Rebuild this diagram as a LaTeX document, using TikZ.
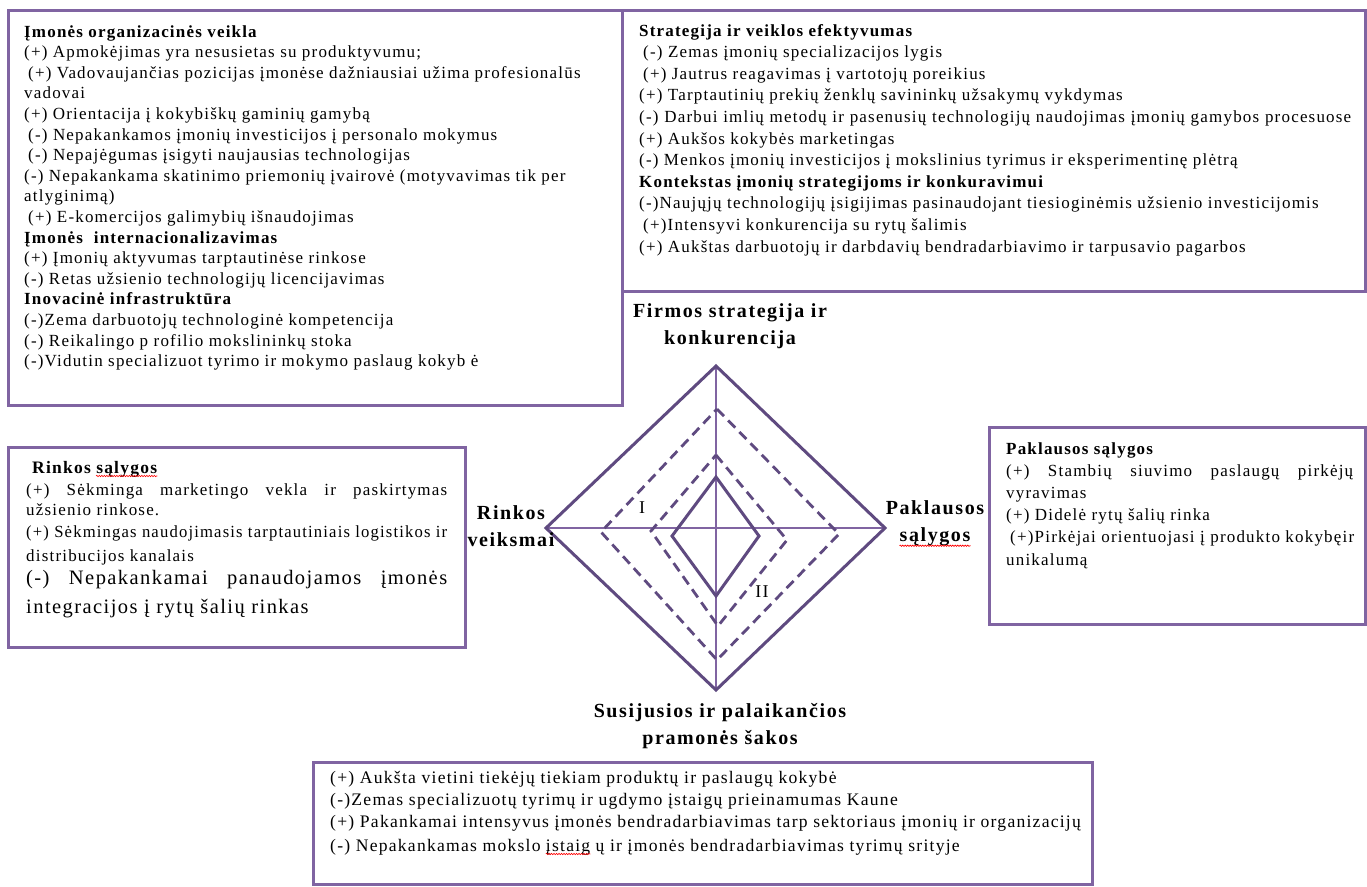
\documentclass[tikz,border=0pt]{standalone}
\usepackage{fontspec}
\setmainfont{Liberation Serif}
\newfontfamily\bodyfont{Liberation Serif}[LetterSpace=7]
\newfontfamily\labelfont{Liberation Serif}[LetterSpace=8]
\usetikzlibrary{calc,decorations.pathmorphing}
\definecolor{boxpurple}{HTML}{8064A2}
\definecolor{darkpurple}{HTML}{5F4A80}
\newcommand\ind{\hspace*{4pt}}
% justified line: stretch the spaces, or squeeze the line when it is too long
\newcommand\just[2]{\setbox0\hbox{#2}%
  \ifdim\wd0>#1\relax\resizebox{#1}{\height}{\box0}\else\makebox[#1][s]{#2}\fi}
\tikzset{
  panel/.style={draw=boxpurple, line width=3pt, fill=white, anchor=north west,
    inner sep=0pt, outer sep=0pt},
  body/.style={anchor=base west, inner sep=0pt, text=black,
    font=\bodyfont\fontsize{17}{20}\selectfont},
  relbody/.style={body, font=\bodyfont\fontsize{17.6}{20}\selectfont},
  bigbody/.style={body, font=\bodyfont\fontsize{20.5}{24}\selectfont},
  axlabel/.style={align=center, inner sep=0pt, text=black,
    font=\labelfont\bfseries\fontsize{20}{27}\selectfont},
  roman/.style={inner sep=0pt, text=black, font=\bodyfont\fontsize{18}{20}\selectfont},
  axisline/.style={draw=boxpurple, line width=1.4pt},
  diamondline/.style={draw=darkpurple, line width=3pt, line join=miter},
  dashline/.style={draw=darkpurple, line width=2.8pt, dash pattern=on 10pt off 6pt},
  wavy/.style={draw=red, line width=0.6pt, decorate,
    decoration={snake, amplitude=0.7pt, segment length=2.5pt}},
}
\begin{document}
\begin{tikzpicture}[x=1pt,y=-1pt]
\useasboundingbox (0,0) rectangle (1367,886);
\fill[white] (0,0) rectangle (1367,886);

% ---- panels ----
\node[panel, minimum width=614pt, minimum height=395pt] (org) at (8,10) {};
\node[panel, minimum width=743pt, minimum height=281pt] (strat) at (622,10) {};
\node[panel, minimum width=457pt, minimum height=200pt] (mkt) at (8,447) {};
\node[panel, minimum width=376pt, minimum height=197pt] (dem) at (989,427) {};
\node[panel, minimum width=779pt, minimum height=122pt] (rel) at (313,762) {};

% ---- organisation, internationalisation, infrastructure ----
\foreach \t [count=\i from 0] in {
  {\textbf{Įmonės organizacinės veikla}},
  {(+) Apmokėjimas yra nesusietas su produktyvumu;},
  {\ind(+) Vadovaujančias pozicijas įmonėse dažniausiai užima profesionalūs},
  {vadovai},
  {(+) Orientacija į kokybiškų gaminių gamybą},
  {\ind(-) Nepakankamos įmonių investicijos į personalo mokymus},
  {\ind(-) Nepajėgumas įsigyti naujausias technologijas},
  {(-) Nepakankama skatinimo priemonių įvairovė (motyvavimas tik per},
  {atlyginimą)},
  {\ind(+) E-komercijos galimybių išnaudojimas},
  {\textbf{Įmonės \ internacionalizavimas}},
  {(+) Įmonių aktyvumas tarptautinėse rinkose},
  {(-) Retas užsienio technologijų licencijavimas},
  {\textbf{Inovacinė infrastruktūra}},
  {(-)Zema darbuotojų technologinė kompetencija},
  {(-) Reikalingo p rofilio mokslininkų stoka},
  {(-)Vidutin specializuot tyrimo ir mokymo paslaug kokyb ė}}
  \node[body] (org\i) at (24, 37+\i*20.6) {\t};

% ---- strategy and competition ----
\foreach \t [count=\i from 0] in {
  {\textbf{Strategija ir veiklos efektyvumas}},
  {\ind(-) Zemas įmonių specializacijos lygis},
  {\ind(+) Jautrus reagavimas į vartotojų poreikius},
  {(+) Tarptautinių prekių ženklų savininkų užsakymų vykdymas},
  {\just{712pt}{(-) Darbui imlių metodų ir pasenusių technologijų naudojimas įmonių gamybos procesuose}},
  {(+) Aukšos kokybės marketingas},
  {(-) Menkos įmonių investicijos į mokslinius tyrimus ir eksperimentinę plėtrą},
  {\textbf{Kontekstas įmonių strategijoms ir konkuravimui}},
  {(-)Naujųjų technologijų įsigijimas pasinaudojant tiesioginėmis užsienio investicijomis},
  {\ind(+)Intensyvi konkurencija su rytų šalimis},
  {(+) Aukštas darbuotojų ir darbdavių bendradarbiavimo ir tarpusavio pagarbos}}
  \node[body] (strat\i) at (639, 36+\i*21.6) {\t};

% ---- market conditions ----
\node[body, font=\bodyfont\bfseries\fontsize{17.5}{20}\selectfont] (mktA) at (32,473) {Rinkos};
\node[body, font=\bodyfont\bfseries\fontsize{17.5}{20}\selectfont] (mktB)
  at ($(mktA.base east)+(5,0)$) {sąlygos};
\draw[wavy] ($(mktB.base west)+(0,3)$) -- ($(mktB.base east)+(0,3)$);
\node[body] (mkt1) at (26,495) {\just{421pt}{(+) Sėkminga marketingo vekla ir paskirtymas}};
\node[body] (mkt2) at (26,515) {užsienio rinkose.};
\node[body] (mkt3) at (26,537) {\just{421pt}{(+) Sėkmingas naudojimasis tarptautiniais logistikos ir}};
\node[body] (mkt4) at (26,561) {distribucijos kanalais};
\node[bigbody] (mkt5) at (26,584) {\just{421pt}{(-) Nepakankamai panaudojamos įmonės}};
\node[bigbody] (mkt6) at (26,613) {integracijos į rytų šalių rinkas};

% ---- demand conditions ----
\foreach \t [count=\i from 0] in {
  {\textbf{Paklausos sąlygos}},
  {\just{347pt}{(+) Stambių siuvimo paslaugų pirkėjų}},
  {vyravimas},
  {(+) Didelė rytų šalių rinka},
  {\ind(+)Pirkėjai orientuojasi į produkto kokybęir},
  {unikalumą}}
  \node[body] (dem\i) at (1006, 454+\i*22.2) {\t};

% ---- related and supporting industries ----
\node[relbody] (rel0) at (330,783) {(+) Aukšta vietini tiekėjų tiekiam produktų ir paslaugų kokybė};
\node[relbody] (rel1) at (330,805) {(-)Zemas specializuotų tyrimų ir ugdymo įstaigų prieinamumas Kaune};
\node[relbody] (rel2) at (330,827) {(+) Pakankamai intensyvus įmonės bendradarbiavimas tarp sektoriaus įmonių ir organizacijų};
\node[relbody] (rel3a) at (330,851) {(-) Nepakankamas mokslo};
\node[relbody] (rel3b) at ($(rel3a.base east)+(5,0)$) {įstaig};
\node[relbody] (rel3c) at ($(rel3b.base east)+(5,0)$) {ų ir įmonės bendradarbiavimas tyrimų srityje};
\draw[wavy] ($(rel3b.base west)+(0,3)$) -- ($(rel3b.base east)+(0,3)$);

% ---- diamond ----
\coordinate (oT) at (716,366);
\coordinate (oR) at (885,528);
\coordinate (oB) at (716,690);
\coordinate (oL) at (546,528);
\coordinate (dT) at (717,409);
\coordinate (dR) at (839,534);
\coordinate (dB) at (717,660);
\coordinate (dL) at (601,532);
\coordinate (eT) at (716,455);
\coordinate (eR) at (787,540);
\coordinate (eB) at (718,626);
\coordinate (eL) at (651,531);
\coordinate (iT) at (716,477);
\coordinate (iR) at (759,536);
\coordinate (iB) at (716,596);
\coordinate (iL) at (672,536);

\draw[axisline] (oT) -- (oB);
\draw[axisline] (oL) -- (oR);
\draw[diamondline] (oT) -- (oR) -- (oB) -- (oL) -- cycle;
\draw[dashline] (dT) -- (dR) -- (dB) -- (dL) -- cycle;
\draw[dashline] (eT) -- (eR) -- (eB) -- (eL) -- cycle;
\draw[diamondline] (iT) -- (iR) -- (iB) -- (iL) -- cycle;

\node[roman] (zoneI) at (642,508) {I};
\node[roman] (zoneII) at (762,592) {II};

% ---- axis labels ----
\node[axlabel] (firm) at (730,326) {Firmos strategija ir\\konkurencija};
\node[axlabel] (rivals) at (511,526) {Rinkos\\veiksmai};
\node[axlabel] (demA) at (935,508) {Paklausos};
\node[axlabel] (demB) at (935,537) {sąlygos};
\draw[wavy] ($(demB.base west)+(0,4)$) -- ($(demB.base east)+(0,4)$);
\node[axlabel] (ind) at (720,726) {Susijusios ir palaikančios\\pramonės šakos};
\end{tikzpicture}
\end{document}
